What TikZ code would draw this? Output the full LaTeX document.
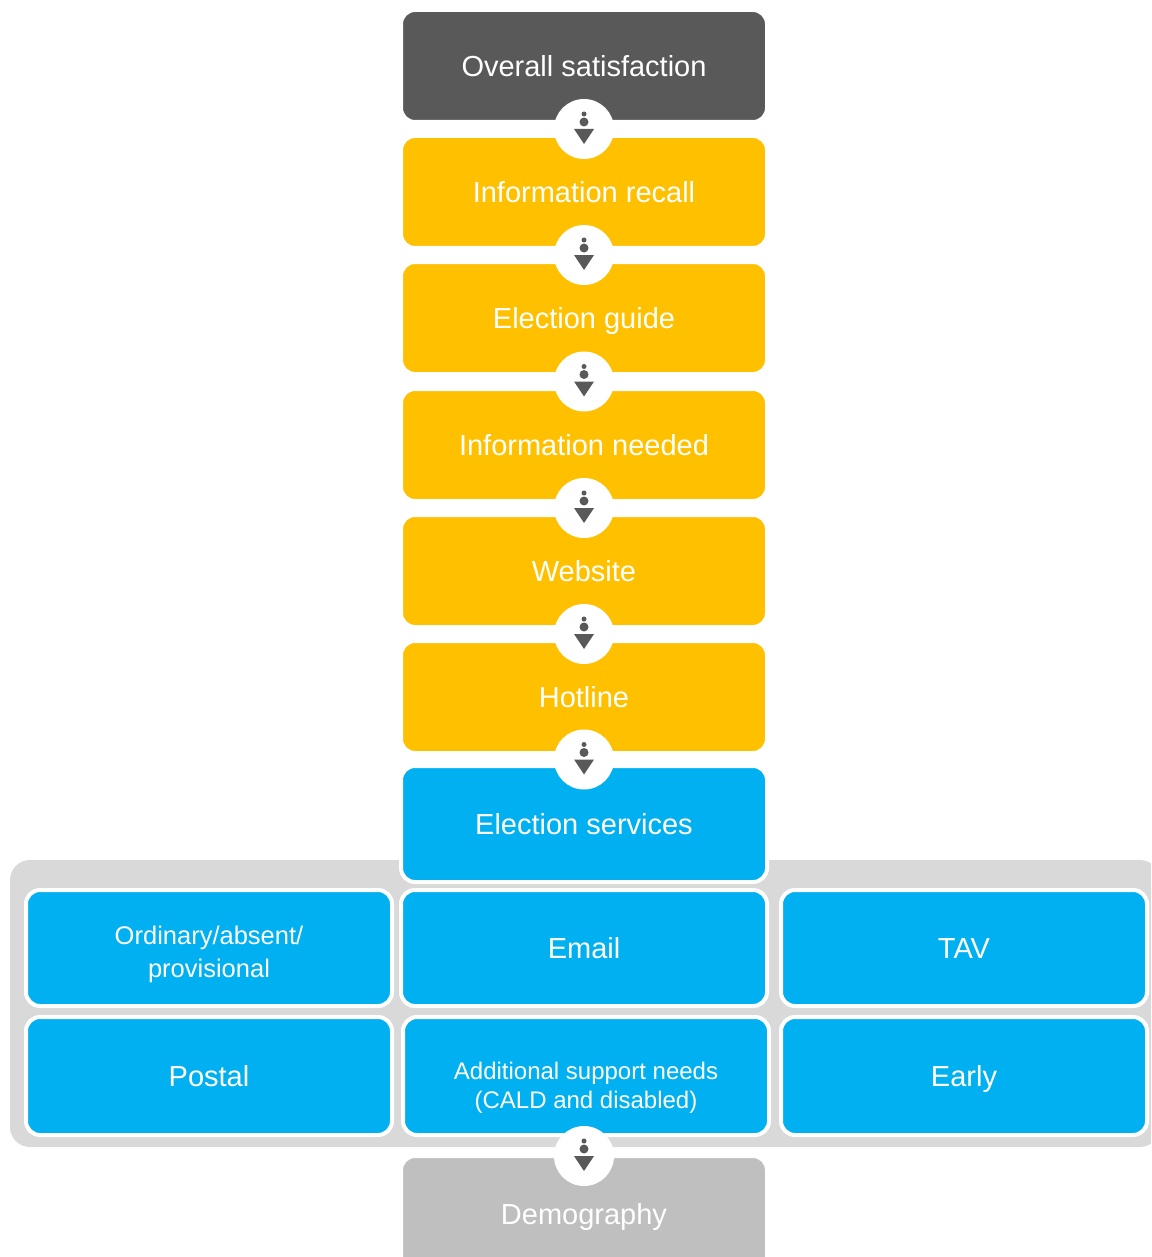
\documentclass[tikz,border=0pt]{standalone}
\usepackage{fontspec}
\setmainfont{Liberation Sans}
\usetikzlibrary{calc,positioning}
\definecolor{darkgrey}{HTML}{595959}
\definecolor{amber}{HTML}{FFC000}
\definecolor{skyblue}{HTML}{00B0F0}
\definecolor{panelgrey}{HTML}{D9D9D9}
\definecolor{lightgrey}{HTML}{BFBFBF}
\tikzset{
  box/.style={rectangle, rounded corners=14pt, draw=white, line width=4pt,
    text=white, align=center, minimum width=366pt, minimum height=112pt,
    inner sep=2pt, text height=21pt, text depth=0pt,
    font=\fontsize{29}{33}\selectfont},
  smalltext/.style={font=\fontsize{25.5}{33}\selectfont, text height=58pt},
  tinytext/.style={font=\fontsize{24}{29}\selectfont, text height=64pt},
  link/.style={circle, fill=white, minimum size=60pt, inner sep=0pt},
  downicon/.pic={
    \fill[darkgrey] (0,-15) circle (2.5pt);
    \fill[darkgrey] (0,-7) circle (4.5pt);
    \fill[darkgrey] (-10,0) -- (10,0) -- (0,15) -- cycle;
  }
}
\begin{document}
\begin{tikzpicture}[x=1pt,y=-1pt]
  \clip (0,0) rectangle (1151,1257);
  % grey panel behind the service boxes
  \fill[panelgrey] (10,860) [rounded corners=20pt] rectangle (1160,1147);
  % main chain
  \node[box, fill=darkgrey] (sat) at (584,66) {Overall satisfaction};
  \node[box, fill=amber] (rec) at (584,192) {Information recall};
  \node[box, fill=amber] (gde) at (584,318) {Election guide};
  \node[box, fill=amber] (need) at (584,445) {Information needed};
  \node[box, fill=amber] (web) at (584,571) {Website};
  \node[box, fill=amber] (hot) at (584,697) {Hotline};
  \node[box, fill=skyblue, minimum height=116pt] (serv) at (584,824) {Election services};
  % service types
  \node[box, fill=skyblue, minimum height=116pt, smalltext] (ord) at (209,948) {Ordinary/absent/\\provisional};
  \node[box, fill=skyblue, minimum height=116pt] (mail) at (584,948) {Email};
  \node[box, fill=skyblue, minimum height=116pt] (tav) at (964,948) {TAV};
  \node[box, fill=skyblue, minimum height=118pt] (post) at (209,1076) {Postal};
  \node[box, fill=skyblue, minimum height=118pt, tinytext] (add) at (586,1076) {Additional support needs\\(CALD and disabled)};
  \node[box, fill=skyblue, minimum height=118pt] (early) at (964,1076) {Early};
  \node[box, fill=lightgrey, minimum height=116pt] (demo) at (584,1214) {Demography};
  % links between the steps
  \foreach \a/\b/\n in {sat/rec/1, rec/gde/2, gde/need/3, need/web/4, web/hot/5, hot/serv/6}{
    \node[link] (link\n) at ($(\a.south)!0.5!(\b.north)$) {};
    \pic at (link\n) {downicon};
  }
  \node[link] (link7) at ($(demo.north)+(0,2)$) {};
  \pic at (link7) {downicon};
\end{tikzpicture}
\end{document}
